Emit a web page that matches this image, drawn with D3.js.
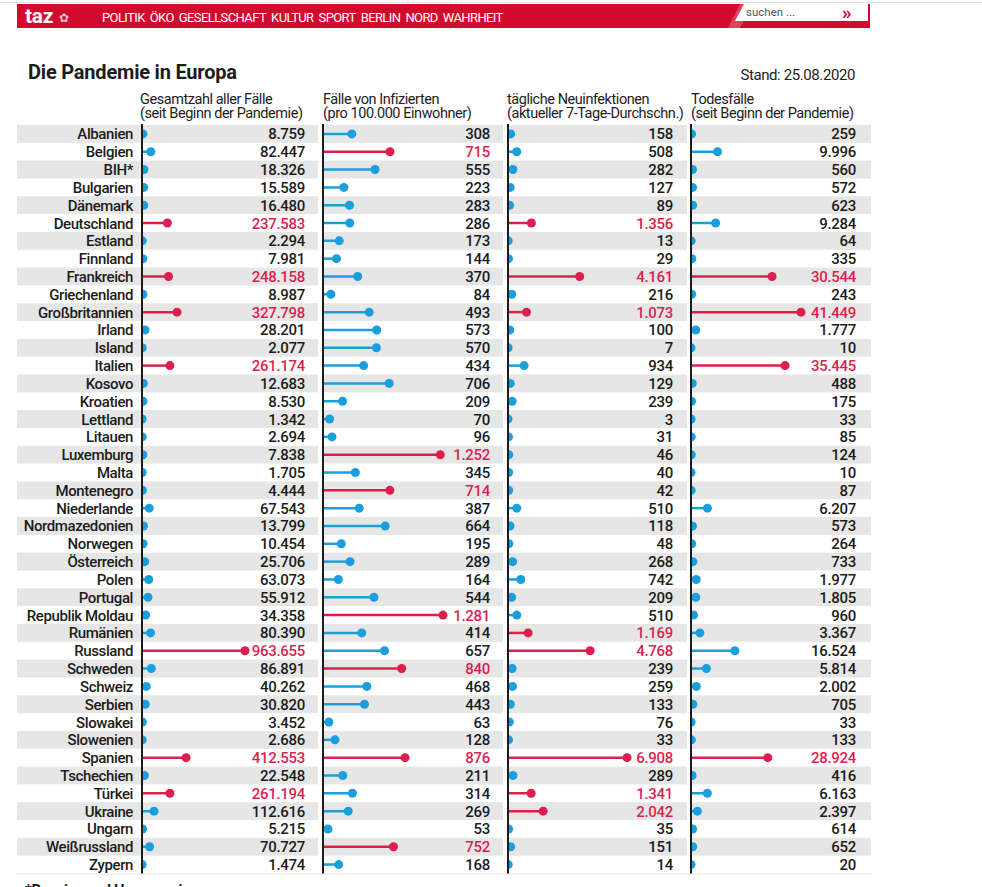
<!DOCTYPE html>
<html>
<head>
<meta charset="utf-8">
<script src="https://cdn.jsdelivr.net/npm/d3@7"></script>
<style>
  body { margin: 0; background: #fff; }
  svg { display: block; font-family: Roboto, "Liberation Sans", sans-serif; }
</style>
</head>
<body>
<svg id="chart" width="982" height="887"></svg>
<script>
// data read from the taz graphic (Stand 25.08.2020)
var countries = ["Albanien", "Belgien", "BIH*", "Bulgarien", "Dänemark", "Deutschland", "Estland", "Finnland",
  "Frankreich", "Griechenland", "Großbritannien", "Irland", "Island", "Italien", "Kosovo", "Kroatien", "Lettland",
  "Litauen", "Luxemburg", "Malta", "Montenegro", "Niederlande", "Nordmazedonien", "Norwegen", "Österreich", "Polen",
  "Portugal", "Republik Moldau", "Rumänien", "Russland", "Schweden", "Schweiz", "Serbien", "Slowakei", "Slowenien",
  "Spanien", "Tschechien", "Türkei", "Ukraine", "Ungarn", "Weißrussland", "Zypern"];

var totalCases = [8759, 82447, 18326, 15589, 16480, 237583, 2294, 7981, 248158, 8987, 327798, 28201, 2077, 261174,
  12683, 8530, 1342, 2694, 7838, 1705, 4444, 67543, 13799, 10454, 25706, 63073, 55912, 34358, 80390, 963655, 86891,
  40262, 30820, 3452, 2686, 412553, 22548, 261194, 112616, 5215, 70727, 1474];

var casesPer100k = [308, 715, 555, 223, 283, 286, 173, 144, 370, 84, 493, 573, 570, 434, 706, 209, 70, 96, 1252, 345,
  714, 387, 664, 195, 289, 164, 544, 1281, 414, 657, 840, 468, 443, 63, 128, 876, 211, 314, 269, 53, 752, 168];

var dailyNew = [158, 508, 282, 127, 89, 1356, 13, 29, 4161, 216, 1073, 100, 7, 934, 129, 239, 3, 31, 46, 40, 42, 510,
  118, 48, 268, 742, 209, 510, 1169, 4768, 239, 259, 133, 76, 33, 6908, 289, 1341, 2042, 35, 151, 14];

var deaths = [259, 9996, 560, 572, 623, 9284, 64, 335, 30544, 243, 41449, 1777, 10, 35445, 488, 175, 33, 85, 124, 10,
  87, 6207, 573, 264, 733, 1977, 1805, 960, 3367, 16524, 5814, 2002, 705, 33, 133, 28924, 416, 6163, 2397, 614, 652, 20];

var columnTitles = [
  ["Gesamtzahl aller Fälle", "(seit Beginn der Pandemie)"],
  ["Fälle von Infizierten", "(pro 100.000 Einwohner)"],
  ["tägliche Neuinfektionen", "(aktueller 7-Tage-Durchschn.)"],
  ["Todesfälle", "(seit Beginn der Pandemie)"]
];
var navItems = ["POLITIK", "ÖKO", "GESELLSCHAFT", "KULTUR", "SPORT", "BERLIN", "NORD", "WAHRHEIT"];

var RED = "#dc1f4f", BLUE = "#1b9fdc", INK = "#1c1c1c";
var fmt = d3.formatLocale({ decimal: ",", thousands: ".", grouping: [3] }).format(",d");

var svg = d3.select("#chart");

// top site bar
svg.append("line").attr("x1", 0).attr("x2", 982).attr("y1", 2.5).attr("y2", 2.5)
  .attr("stroke", "#e2e2e2").attr("stroke-width", 1);
svg.append("rect").attr("x", 17).attr("y", 4).attr("width", 853).attr("height", 24).attr("fill", "#d20a2e");
svg.append("text").attr("x", 25).attr("y", 23).attr("fill", "#fff")
  .style("font-size", "21px").style("font-weight", "bold").style("letter-spacing", "-0.3px").text("taz");
svg.append("text").attr("x", 59).attr("y", 22).attr("fill", "#f7c9d2")
  .style("font-size", "12px").text("✿");
var nx = 102;
navItems.forEach(function(n) {
  var t = svg.append("text").attr("x", nx).attr("y", 21.5).attr("fill", "#fff")
    .style("font-size", "13px").style("letter-spacing", "-0.6px").text(n);
  nx += t.node().getComputedTextLength() + 5;
});
svg.append("path").attr("d", "M728,28 L740,4 L752,4 L740,28 Z").attr("fill", "#e0415f");
svg.append("path").attr("d", "M735,21 L744,4 L868,4 L868,21 Z").attr("fill", "#fff");
svg.append("text").attr("x", 746).attr("y", 16).attr("fill", "#555")
  .style("font-size", "11.5px").text("suchen ...");
svg.append("text").attr("x", 842).attr("y", 19).attr("fill", "#d20a2e")
  .style("font-size", "19px").style("font-weight", "bold").text("»");

// titles
svg.append("text").attr("x", 28).attr("y", 79).attr("fill", INK)
  .style("font-size", "20px").style("font-weight", "bold").style("letter-spacing", "-0.2px")
  .text("Die Pandemie in Europa");
svg.append("text").attr("x", 855).attr("y", 80).attr("text-anchor", "end").attr("fill", INK)
  .style("font-size", "15px").style("letter-spacing", "-0.4px").text("Stand: 25.08.2020");

var topY = 125, bottomY = 873.5;
var y = d3.scaleBand().domain(countries).range([topY, bottomY]);
function rowMid(i) { return y(countries[i]) + y.bandwidth() / 2; }

var cols = [
  { values: totalCases, x0: 142, bandX: 17, bandR: 318, valR: 305, max: 963655, len: 103, hi: 200000, title: 140 },
  { values: casesPer100k, x0: 323, bandX: 322, bandR: 503, valR: 490, max: 1281, len: 120, hi: 710, title: 323 },
  { values: dailyNew, x0: 508, bandX: 507, bandR: 687, valR: 673, max: 6908, len: 119, hi: 1000, title: 507 },
  { values: deaths, x0: 691, bandX: 691, bandR: 871, valR: 856, max: 41449, len: 110, hi: 20000, title: 691 }
];

// zebra bands
cols.forEach(function(c) {
  svg.append("g").selectAll("rect")
    .data(countries.filter(function(d, i) { return i % 2 === 0; }))
    .enter().append("rect")
    .attr("x", c.bandX).attr("width", c.bandR - c.bandX)
    .attr("y", function(d) { return y(d); }).attr("height", y.bandwidth())
    .attr("fill", "#e6e6e6");
});
svg.append("line").attr("x1", 17).attr("x2", 871).attr("y1", bottomY + 0.5).attr("y2", bottomY + 0.5)
  .attr("stroke", "#e3e3e3").attr("stroke-width", 1);

// country names
svg.append("g").selectAll("text").data(countries).enter().append("text")
  .attr("x", 133).attr("y", function(d, i) { return rowMid(i) + 5.5; })
  .attr("text-anchor", "end").attr("fill", INK)
  .style("font-size", "15px").style("font-weight", "500").style("letter-spacing", "-0.4px")
  .text(function(d) { return d; });

var defs = svg.append("defs");
cols.forEach(function(c, ci) {
  var x = d3.scaleLinear().domain([0, c.max]).range([c.x0, c.x0 + c.len]);
  defs.append("clipPath").attr("id", "clip" + ci).append("rect")
    .attr("x", c.x0).attr("y", topY).attr("width", 200).attr("height", bottomY - topY);

  // header
  var h = svg.append("text").attr("x", c.title).attr("fill", INK)
    .style("font-size", "14.5px").style("letter-spacing", "-0.45px");
  h.append("tspan").attr("x", c.title).attr("y", 103.5).text(columnTitles[ci][0]);
  h.append("tspan").attr("x", c.title).attr("y", 117.5).text(columnTitles[ci][1]);

  var g = svg.append("g").attr("clip-path", "url(#clip" + ci + ")");
  var rows = g.selectAll("g").data(c.values).enter().append("g");
  rows.append("line")
    .attr("x1", c.x0).attr("x2", function(d) { return x(d); })
    .attr("y1", function(d, i) { return rowMid(i); })
    .attr("y2", function(d, i) { return rowMid(i); })
    .attr("stroke", function(d) { return d > c.hi ? RED : BLUE; }).attr("stroke-width", 2.5);
  rows.append("circle")
    .attr("cx", function(d) { return x(d); })
    .attr("cy", function(d, i) { return rowMid(i); })
    .attr("r", 4.5)
    .attr("fill", function(d) { return d > c.hi ? RED : BLUE; });

  svg.append("line").attr("x1", c.x0).attr("x2", c.x0).attr("y1", topY - 1).attr("y2", bottomY)
    .attr("stroke", INK).attr("stroke-width", 2);

  svg.append("g").selectAll("text").data(c.values).enter().append("text")
    .attr("x", c.valR).attr("y", function(d, i) { return rowMid(i) + 5.5; })
    .attr("text-anchor", "end")
    .attr("fill", function(d) { return d > c.hi ? RED : INK; })
    .style("font-size", "15px").style("font-weight", "500").style("letter-spacing", "-0.3px")
    .text(function(d) { return fmt(d); });
});

svg.append("text").attr("x", 25).attr("y", 895).attr("fill", INK)
  .style("font-size", "15px").style("font-weight", "bold").style("letter-spacing", "-0.4px")
  .text("*Bosnien und Herzegowina");
</script>
</body>
</html>
